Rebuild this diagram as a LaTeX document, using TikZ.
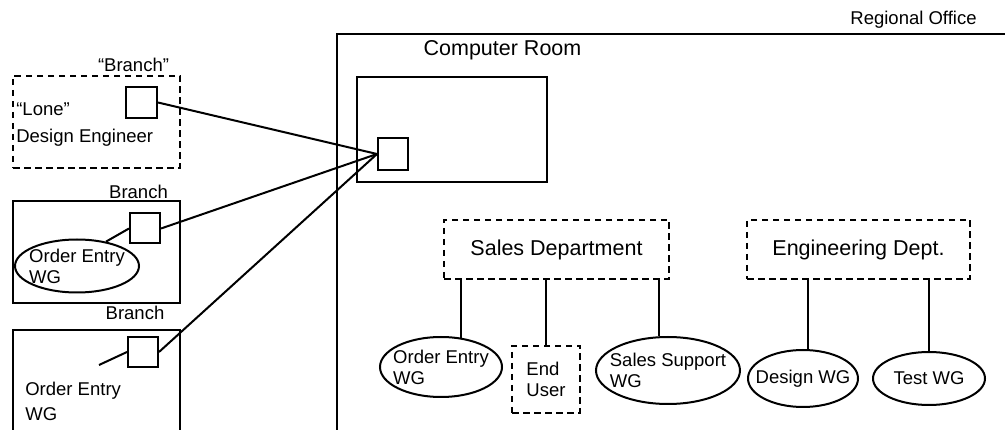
\documentclass[tikz,border=0pt]{standalone}
\usepackage{fontspec}
\setmainfont{Liberation Sans}
\usetikzlibrary{shapes.geometric}

\begin{document}
\begin{tikzpicture}[x=1pt, y=-1pt, line width=2pt,
    every node/.style={font=\fontsize{18.5}{21}\selectfont},
    big/.style={font=\fontsize{21.5}{26}\selectfont},
    dashbox/.style={draw, dash pattern=on 6.5pt off 4.5pt},
    port/.style={draw, minimum width=30pt, minimum height=30pt, inner sep=0pt},
    wg/.style={draw, ellipse, inner sep=-40pt, align=left}
    ]
    \useasboundingbox (0,0) rectangle (1005,430);

    \node (regional) at (913.5,20) {Regional Office};
    \draw (337,430) -- (337,34) -- (1005,34);
    \node[big] (croom) at (502.5,50) {Computer Room};
    \node[draw, minimum width=190pt, minimum height=105pt] (host) at (452,129.5) {};
    \node[port, minimum height=32pt] (hport) at (393,154) {};

    \node[dashbox, minimum width=167pt, minimum height=92pt] (lone) at (96.5,122) {};
    \node (lonebranch) at (133.5,65) {“Branch”};
    \node[align=left, anchor=west, font=\fontsize{18.5}{27}\selectfont] (engineer) at (12,125) {“Lone”\\Design Engineer};
    \node[port, minimum width=31pt, minimum height=31pt] (port1) at (141.5,102.5) {};

    \node[draw, minimum width=167pt, minimum height=102pt] (branch1) at (96.5,252) {};
    \node (branch1lbl) at (138.5,192) {Branch};
    \node[port] (port2) at (145,228.5) {};
    \node[wg, minimum width=124pt, minimum height=53pt] (oe1) at (77,266) {Order Entry\\WG};

    \draw (13,430) -- (13,330) -- (180,330) -- (180,430);
    \node (branch2lbl) at (135,313) {Branch};
    \node[port] (port3) at (143,352) {};
    \node[align=left, anchor=west, font=\fontsize{18.5}{25}\selectfont] (oe3) at (21,401) {Order Entry\\WG};
    \coordinate (loose) at (99,365);

    \draw (port1.east) -- (hport.west);
    \draw (port2.east) -- (hport.west);
    \draw (port3.east) -- (hport.west);
    \draw (port2.west) -- (oe1.40);
    \draw (port3.west) -- (loose);

    \node[dashbox, big, minimum width=225pt, minimum height=59pt] (sales) at (556.5,249.5) {Sales Department};
    \node[dashbox, big, minimum width=223pt, minimum height=59pt] (eng) at (858.5,249.5) {Engineering Dept.};

    \node[wg, minimum width=122pt, minimum height=60pt] (oe2) at (441,367) {Order Entry\\WG};
    \node[dashbox, align=left, minimum width=68pt, minimum height=67pt] (enduser) at (546,379.5) {End\\User};
    \node[wg, minimum width=144pt, minimum height=67pt] (support) at (668,370.5) {Sales Support\\WG};
    \node[wg, minimum width=110pt, minimum height=57pt] (design) at (803,378.5) {Design WG};
    \node[wg, minimum width=112pt, minimum height=53pt] (test) at (929,378.5) {Test WG};

    \draw (oe2.55) -- (oe2.55 |- sales.south);
    \draw (enduser.north) -- (enduser.north |- sales.south);
    \draw (support.105) -- (support.105 |- sales.south);
    \draw (design.80) -- (design.80 |- eng.south);
    \draw (test.north) -- (test.north |- eng.south);
  \end{tikzpicture}
\end{document}
